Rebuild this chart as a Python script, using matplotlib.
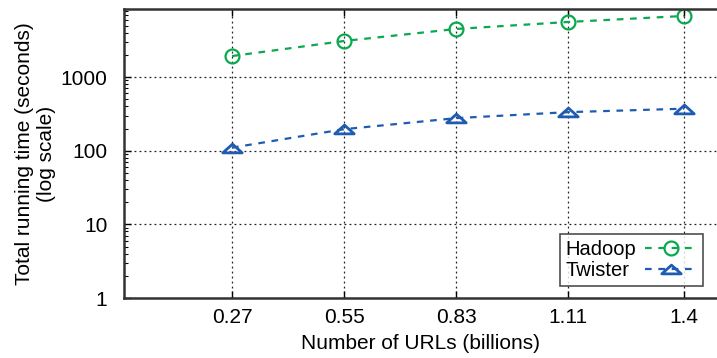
import matplotlib
matplotlib.use("Agg")
import matplotlib.pyplot as plt
from matplotlib.ticker import FixedLocator, NullFormatter, LogLocator
from matplotlib.path import Path

plt.rcParams['font.family'] = ['Liberation Sans', 'DejaVu Sans']

urls = [0.27, 0.55, 0.83, 1.11, 1.4]
x_labels = ["0.27", "0.55", "0.83", "1.11", "1.4"]
hadoop = [1930, 3090, 4500, 5600, 6760]
twister = [110, 196, 277, 334, 372]
y_ticks = [1, 10, 100, 1000]
y_labels = ["1", "10", "100", "1000"]

fig = plt.figure(figsize=(7.17, 3.58), dpi=100)
ax = fig.add_axes([124/717, 1-298/358, (717-124)/717, (298-9)/358])

flat_tri = Path([(-1.0, -0.45), (1.0, -0.45), (0.0, 0.45), (-1.0, -0.45)],
                [Path.MOVETO, Path.LINETO, Path.LINETO, Path.CLOSEPOLY])

green = "#0aa84f"
blue = "#1f5bb0"
ax.plot(urls, hadoop, linestyle=(0, (3, 3)), color=green, lw=1.6, marker='o',
        markersize=10, markerfacecolor='none', markeredgewidth=1.6, label="Hadoop")
ax.plot(urls, twister, linestyle=(0, (3, 3)), color=blue, lw=1.6, marker=flat_tri,
        markersize=14, markerfacecolor='none', markeredgewidth=2.0, label="Twister")

ax.set_yscale('log')
ax.set_ylim(1, 8400)
ax.set_xlim(0, 1.482)
ax.yaxis.set_major_locator(FixedLocator(y_ticks))
ax.set_yticklabels(y_labels)
ax.yaxis.set_minor_locator(LogLocator(base=10, subs=range(2, 10)))
ax.yaxis.set_minor_formatter(NullFormatter())
ax.set_xticks(urls)
ax.set_xticklabels(x_labels)

ax.grid(True, which='major', color='#222222', linestyle=(0, (1.5, 2.5)), lw=0.9)
ax.tick_params(axis='x', which='major', direction='in', length=5, width=1,
               labelsize=15, top=True, pad=7)
ax.tick_params(axis='y', which='major', direction='in', length=5, width=1,
               labelsize=15, right=False, pad=12)
ax.tick_params(axis='y', which='minor', direction='in', length=3, width=0.8)
for s in ax.spines.values():
    s.set_color('#333333')
    s.set_linewidth(1.8)
ax.spines['right'].set_visible(False)

ax.set_xlabel("Number of URLs (billions)", fontsize=15, labelpad=5)
ax.set_ylabel("Total running time (seconds)\n(log scale)", fontsize=15, labelpad=3)

leg = ax.legend(loc='lower right', fontsize=14.5, frameon=True, fancybox=False,
                edgecolor='#222222', handlelength=2.6, handletextpad=0.4,
                borderpad=0.3, labelspacing=0.1, markerfirst=False,
                bbox_to_anchor=((703-124)/593, 12/289), borderaxespad=0)
leg.get_frame().set_linewidth(1.2)

# left-align the labels while keeping handles at the right
fig.canvas.draw()
renderer = fig.canvas.get_renderer()
rows = []
for col in leg._legend_handle_box.get_children():
    rows.extend(col.get_children())
maxw = max(r.get_bbox(renderer).width for r in rows)
for r in rows:
    r.width = maxw
    r.mode = 'expand'

fig.savefig("out.png", dpi=100)
